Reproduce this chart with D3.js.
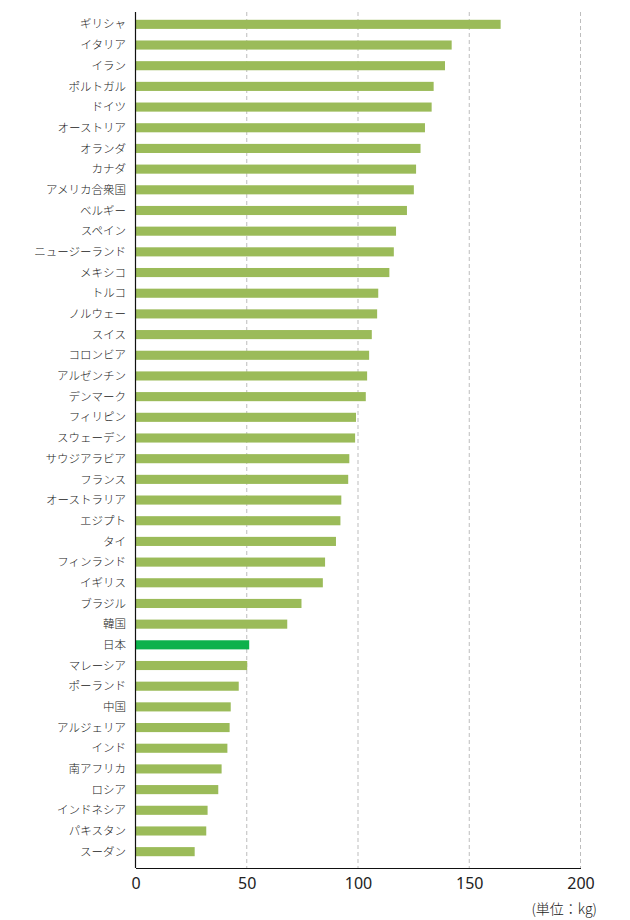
<!DOCTYPE html>
<html><head><meta charset="utf-8">
<script src="https://cdn.jsdelivr.net/npm/d3@7"></script>
<style>html,body{margin:0;padding:0;background:#fff;}</style>
</head><body>
<svg id="chart" width="630" height="920"></svg>
<script>
const countries = ["ギリシャ","イタリア","イラン","ポルトガル","ドイツ","オーストリア","オランダ","カナダ","アメリカ合衆国","ベルギー","スペイン","ニュージーランド","メキシコ","トルコ","ノルウェー","スイス","コロンビア","アルゼンチン","デンマーク","フィリピン","スウェーデン","サウジアラビア","フランス","オーストラリア","エジプト","タイ","フィンランド","イギリス","ブラジル","韓国","日本","マレーシア","ポーランド","中国","アルジェリア","インド","南アフリカ","ロシア","インドネシア","パキスタン","スーダン"];
const values = [164.1,142.1,139.1,134.0,133.1,130.1,128.1,126.1,125.1,122.0,117.1,116.1,114.1,109.1,108.6,106.2,105.0,104.1,103.5,99.1,98.7,96.1,95.6,92.5,92.1,90.1,85.2,84.2,74.6,68.2,51.1,50.2,46.4,42.8,42.3,41.3,38.7,37.2,32.4,31.8,26.6];
const highlight = "日本";
const xTicks = [0,50,100,150,200];
const unitLabel = "(単位：kg)";

const svg = d3.select("#chart");
const x = d3.scaleLinear().domain([0,200]).range([135.5,580.5]);
const y = d3.scaleBand().domain(countries).range([14,862]).paddingInner(0.56).paddingOuter(0.28);
const axisY = 868;

// gridlines
svg.append("g").selectAll("line").data(xTicks.filter(d=>d>0)).join("line")
  .attr("x1",d=>x(d)).attr("x2",d=>x(d)).attr("y1",12).attr("y2",axisY)
  .attr("stroke","#bdbdbd").attr("stroke-width",1).attr("stroke-dasharray","4,3");

// bars
svg.append("g").selectAll("rect").data(countries).join("rect")
  .attr("x",x(0)).attr("y",d=>y(d)).attr("height",y.bandwidth())
  .attr("width",(d,i)=>x(values[i])-x(0))
  .attr("fill",d=>d===highlight?"#0db14b":"#9bbb59");

// category labels
svg.append("g").selectAll("text").data(countries).join("text")
  .attr("x",126).attr("y",d=>y(d)+y.bandwidth()/2).attr("dy","0.36em")
  .attr("text-anchor","end").attr("font-family","'Noto Sans CJK JP', sans-serif")
  .attr("font-weight",300)
  .attr("font-size",11.5).attr("fill","#222").text(d=>d);

// x axis
const xAxis = d3.axisBottom(x).tickValues(xTicks).tickSize(0).tickPadding(10).tickFormat(d3.format("d"));
const gx = svg.append("g").attr("transform",`translate(0,${axisY})`).call(xAxis);
gx.select(".domain").attr("stroke","#111").attr("stroke-width",1.2);
gx.selectAll("text").attr("font-family","'Noto Sans', sans-serif").attr("font-size",16).attr("fill","#222");

// y axis line
svg.append("line").attr("x1",x(0)).attr("x2",x(0)).attr("y1",12).attr("y2",axisY)
  .attr("stroke","#111").attr("stroke-width",1.2);

svg.append("text").attr("x",597).attr("y",914).attr("text-anchor","end")
  .attr("font-family","'Noto Sans CJK JP', sans-serif").attr("font-weight",300).attr("font-size",14).attr("fill","#222").text(unitLabel);
</script>
</body></html>
